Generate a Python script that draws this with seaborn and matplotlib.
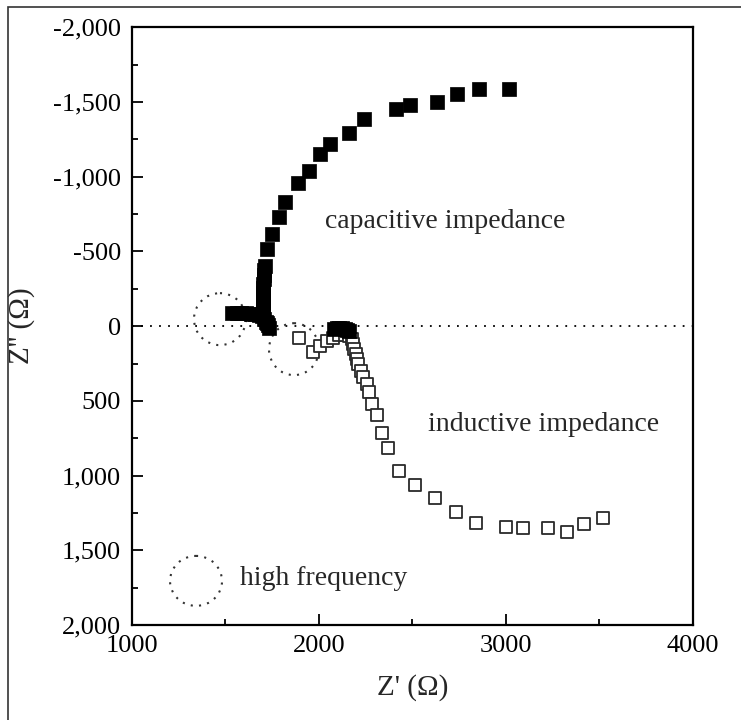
import matplotlib
matplotlib.use("Agg")
import matplotlib.pyplot as plt
from matplotlib.patches import Ellipse, Rectangle
from matplotlib.ticker import FuncFormatter, MultipleLocator
import seaborn as sns
import pandas as pd

# capacitive loop (filled squares), Z' and Z'' in ohm
cap_x = [1535, 1560, 1585, 1610, 1635, 1660, 1680, 1695,
         1715, 1728, 1735, 1722, 1708, 1702, 1700, 1699, 1700, 1700, 1701,
         1702, 1703, 1704, 1705, 1707, 1710, 1723, 1749, 1787, 1819, 1888,
         1947, 2006, 2059, 2161, 2244, 2410, 2488, 2630, 2739, 2859, 3018,
         2081, 2095, 2110, 2125, 2140, 2152, 2162]
cap_y = [-88, -90, -89, -86, -83, -80, -75, -65,
         -30, -5, 15, -20, -45, -75, -105, -135, -165, -195, -225,
         -255, -285, -315, -345, -375, -400, -515, -615, -729, -829, -957,
         -1037, -1150, -1217, -1290, -1389, -1451, -1482, -1498, -1554, -1585, -1585,
         20, 15, 13, 15, 18, 25, 32]

# inductive loop (open squares)
ind_x = [1895, 1970, 2006, 2042, 2074, 2110, 2140, 2162,
         2175, 2184, 2189, 2198, 2205, 2211, 2224, 2237, 2256, 2268, 2286,
         2309, 2336, 2371, 2428, 2514, 2621, 2733, 2840, 3000, 3091, 3225,
         3326, 3417, 3519]
ind_y = [76, 176, 132, 98, 76, 60, 62, 68,
         87, 120, 154, 187, 221, 254, 299, 337, 388, 443, 522,
         595, 716, 818, 970, 1064, 1151, 1244, 1318, 1344, 1351, 1351,
         1378, 1324, 1284]

x_ticks = [1000, 2000, 3000, 4000]
y_ticks = [-2000, -1500, -1000, -500, 0, 500, 1000, 1500, 2000]

cap = pd.DataFrame({"Zre": cap_x, "Zim": cap_y})
ind = pd.DataFrame({"Zre": ind_x, "Zim": ind_y})

sns.set_theme(style="ticks")
plt.rcParams["font.family"] = ["Liberation Serif", "DejaVu Serif"]

fig = plt.figure(figsize=(7.41, 7.20), dpi=100)
ax = fig.add_axes([0.178, 0.132, 0.757, 0.830])

sns.scatterplot(data=cap, x="Zre", y="Zim", ax=ax, marker="s", s=90,
                color="black", edgecolor="black", linewidth=0.5, zorder=3)
sns.scatterplot(data=ind, x="Zre", y="Zim", ax=ax, marker="s", s=75,
                facecolor="white", edgecolor="#2a2a2a", linewidth=1.3, zorder=2)

ax.axhline(0, color="black", lw=1.3, linestyle=(0, (1, 4)), zorder=1)

# dotted circles marking the high frequency region (radius given in pixels)
px_x = 0.18707  # pixels per ohm, x
px_y = 0.1495   # pixels per ohm, y
for cx, cy, rw, rh in [(1471, -47, 26, 26), (1867, 154, 25, 26), (1343, 1705, 26, 25)]:
    ax.add_patch(Ellipse((cx, cy), 2 * rw / px_x, 2 * rh / px_y, fill=False,
                         edgecolor="#333333", lw=1.5, linestyle=(0, (1, 3)), zorder=1))

ax.text(2033, -702, "capacitive impedance", fontsize=20, va="center", ha="left")
ax.text(2584, 655, "inductive impedance", fontsize=20, va="center", ha="left")
ax.text(1579, 1690, "high frequency", fontsize=20, va="center", ha="left")

ax.set_xlim(1000, 4000)
ax.set_ylim(2000, -2000)
ax.set_xticks(x_ticks)
ax.set_yticks(y_ticks)
ax.xaxis.set_minor_locator(MultipleLocator(500))
ax.yaxis.set_minor_locator(MultipleLocator(250))
ax.yaxis.set_major_formatter(FuncFormatter(lambda v, p: f"{int(v):,}"))
ax.xaxis.set_major_formatter(FuncFormatter(lambda v, p: f"{int(v)}"))
ax.tick_params(which="both", direction="in", width=1.3, colors="black",
               labelsize=19, top=False, right=False)
ax.tick_params(which="major", length=8)
ax.tick_params(which="minor", length=4)
ax.tick_params(axis="x", pad=7)
ax.tick_params(axis="y", pad=8)
for sp in ax.spines.values():
    sp.set_linewidth(1.6)
    sp.set_color("black")

ax.set_xlabel("Z' (Ω)", fontsize=21, va="center")
ax.set_ylabel("Z'' (Ω)", fontsize=21, va="center")
ax.xaxis.set_label_coords(0.5, -0.105)
ax.yaxis.set_label_coords(-0.196, 0.5)

# outer frame of the figure
fig.patches.append(Rectangle((8 / 741, -0.1), 1.2, 1.1 - 7 / 720, transform=fig.transFigure,
                             fill=False, edgecolor="#333333", lw=1.2))

fig.savefig("out.png", dpi=100, facecolor="white")
